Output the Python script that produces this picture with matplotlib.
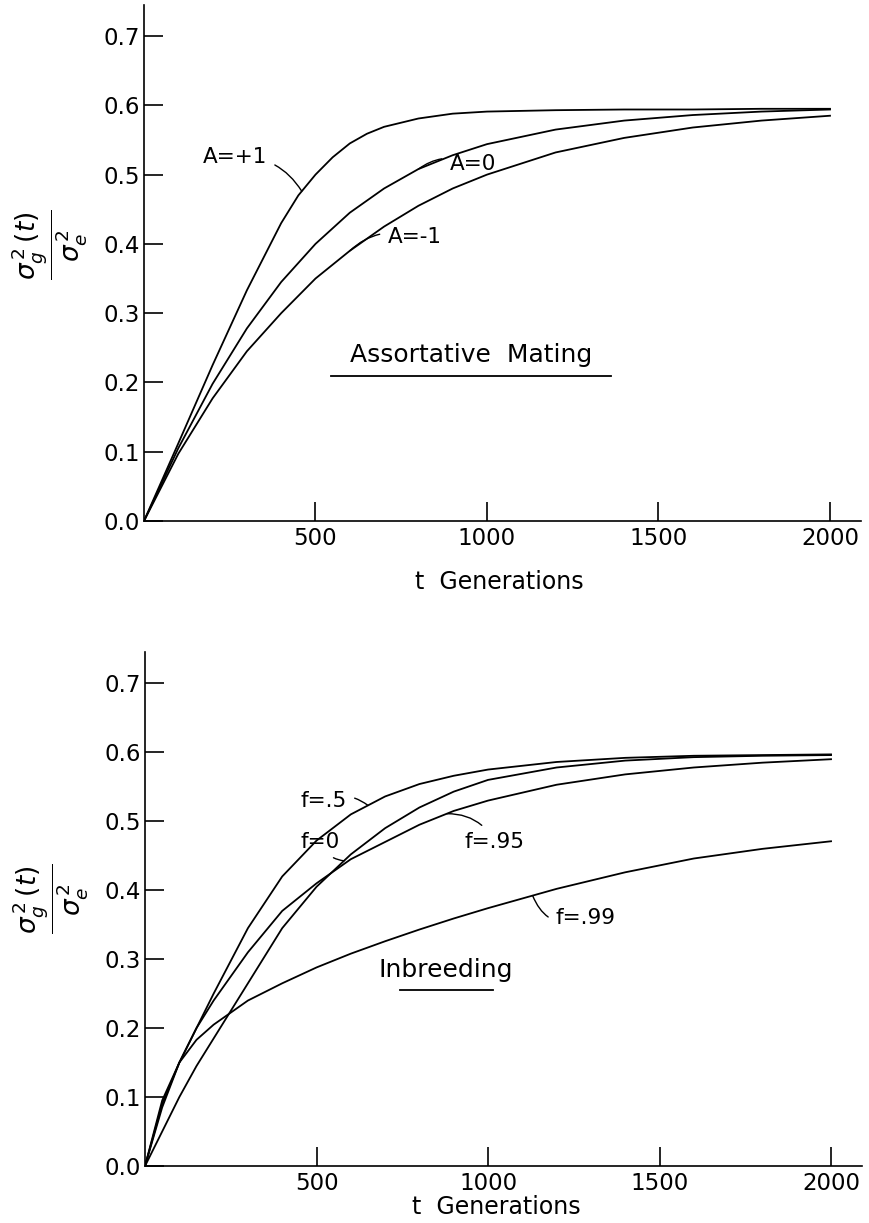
import numpy as np
import matplotlib
matplotlib.use('Agg')
import matplotlib.pyplot as plt

# ============================= DATOS =================================
# generaciones
t = [0, 100, 200, 300, 400, 500, 600, 700, 800, 900, 1000,
     1200, 1400, 1600, 1800, 2000]
t_mas1 = [0, 100, 200, 300, 400, 450, 500, 550, 600, 650, 700, 800, 900, 1000,
          1200, 1400, 1600, 1800, 2000]

# Apareamiento asortativo
a_mas1 = [0, 0.112, 0.225, 0.333, 0.43, 0.47, 0.50, 0.525, 0.545, 0.559, 0.569, 0.581,
          0.588, 0.591, 0.593, 0.594, 0.594, 0.595, 0.595]
a_cero = [0, 0.105, 0.198, 0.278, 0.345, 0.40, 0.445, 0.48, 0.508, 0.528, 0.544,
          0.565, 0.578, 0.586, 0.591, 0.594]
a_menos1 = [0, 0.097, 0.177, 0.245, 0.30, 0.35, 0.39, 0.425, 0.455, 0.48, 0.50,
            0.532, 0.553, 0.568, 0.578, 0.585]

# Endogamia
t_f = [0, 50, 100, 150, 200, 300, 400, 500, 600, 700, 800, 900, 1000,
       1200, 1400, 1600, 1800, 2000]
f_05 = [0, 0.085, 0.15, 0.20, 0.25, 0.345, 0.42, 0.472, 0.51, 0.536, 0.554, 0.566, 0.575,
        0.586, 0.592, 0.595, 0.596, 0.597]
f_095 = [0, 0.09, 0.15, 0.20, 0.24, 0.31, 0.37, 0.41, 0.445, 0.47, 0.495, 0.515, 0.53,
         0.553, 0.568, 0.578, 0.585, 0.59]
f_0 = [0, 0.05, 0.10, 0.145, 0.185, 0.265, 0.345, 0.405, 0.452, 0.49, 0.52, 0.543, 0.56,
       0.578, 0.588, 0.593, 0.595, 0.596]
f_099 = [0, 0.095, 0.15, 0.183, 0.205, 0.24, 0.265, 0.288, 0.308, 0.326, 0.343, 0.359, 0.374,
         0.402, 0.426, 0.446, 0.46, 0.471]

yticks = [0.0, 0.1, 0.2, 0.3, 0.4, 0.5, 0.6, 0.7]
xticks = [500, 1000, 1500, 2000]

ylabel = r'$\dfrac{\sigma_g^{\,2}\,(t)}{\sigma_e^{\,2}}$'

# ============================= FIGURA =================================
fig = plt.figure(figsize=(8.7, 12.23), dpi=100)
ax1 = fig.add_axes([0.1655, 0.574, 0.824, 0.422])
ax2 = fig.add_axes([0.1667, 0.0466, 0.824, 0.420])


def estilo(ax):
    ax.set_xlim(0, 2090)
    ax.set_ylim(0, 0.745)
    ax.spines['top'].set_visible(False)
    ax.spines['right'].set_visible(False)
    ax.spines['left'].set_linewidth(1.2)
    ax.spines['bottom'].set_linewidth(1.2)
    ax.set_yticks(yticks)
    ax.set_yticklabels(['%.1f' % v for v in yticks])
    ax.set_xticks(xticks)
    ax.tick_params(direction='in', length=14, width=1.2, labelsize=16.5, pad=4)
    ax.tick_params(axis='y', pad=3)
    ax.set_xlabel('t  Generations', fontsize=17)
    ax.set_ylabel(ylabel, fontsize=19, rotation=90)


def etiqueta(ax, texto, xy, xytext, rad):
    ax.annotate(texto, xy=xy, xytext=xytext, fontsize=15.5,
                ha='center', va='center',
                arrowprops=dict(arrowstyle='-', lw=1.0, color='black',
                                connectionstyle='arc3,rad=%s' % rad,
                                shrinkA=4, shrinkB=0))


def subrayado(ax, texto, x, y, ancho, yl):
    ax.text(x, y, texto, transform=ax.transAxes, fontsize=18,
            ha='center', va='center')
    ax.plot([x - ancho / 2, x + ancho / 2], [yl, yl],
            transform=ax.transAxes, color='black', lw=1.3, clip_on=False)


# ----- panel superior -----
ax1.plot(t_mas1, a_mas1, color='black', lw=1.3)
for serie in [a_cero, a_menos1]:
    ax1.plot(t, serie, color='black', lw=1.3)
estilo(ax1)
ax1.xaxis.set_label_coords(0.495, -0.095)
ax1.yaxis.set_label_coords(-0.075, 0.535)

etiqueta(ax1, 'A=+1', (460, np.interp(460, t_mas1, a_mas1)), (265, 0.525), -0.3)
etiqueta(ax1, 'A=0', (800, np.interp(800, t, a_cero)), (960, 0.515), 0.3)
etiqueta(ax1, 'A=-1', (600, np.interp(600, t, a_menos1)), (790, 0.41), 0.3)
subrayado(ax1, 'Assortative  Mating', 0.456, 0.322, 0.39, 0.281)

# ----- panel inferior -----
for serie in [f_05, f_095, f_0, f_099]:
    ax2.plot(t_f, serie, color='black', lw=1.3)
estilo(ax2)
ax2.xaxis.set_label_coords(0.49, -0.057)
ax2.yaxis.set_label_coords(-0.075, 0.52)

etiqueta(ax2, 'f=.5', (650, np.interp(650, t_f, f_05)), (520, 0.53), -0.3)
etiqueta(ax2, 'f=.95', (880, np.interp(880, t_f, f_095)), (1020, 0.47), 0.3)
etiqueta(ax2, 'f=0', (580, np.interp(580, t_f, f_0)), (510, 0.47), 0.3)
etiqueta(ax2, 'f=.99', (1130, np.interp(1130, t_f, f_099)), (1285, 0.36), -0.5)
subrayado(ax2, 'Inbreeding', 0.42, 0.381, 0.13, 0.342)

fig.savefig('out.png', dpi=100)
